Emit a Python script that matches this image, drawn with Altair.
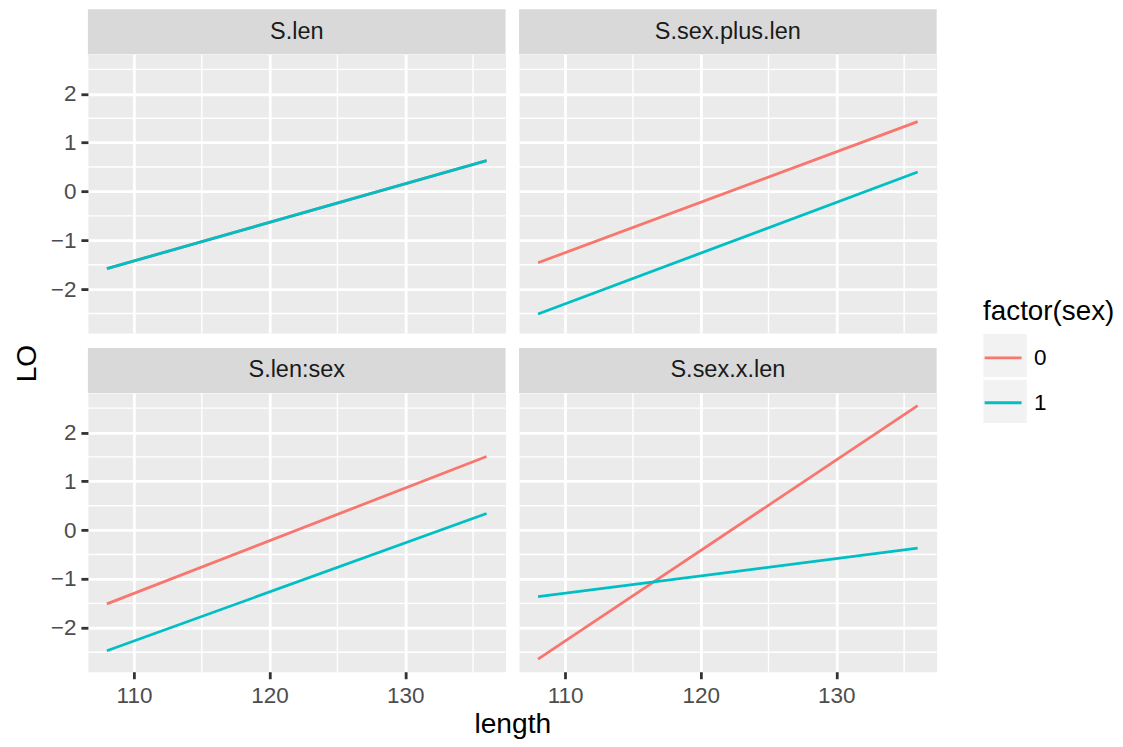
import altair as alt
import pandas as pd

FONT = "Liberation Sans"

# ---- data ----
models = ["S.len", "S.sex.plus.len", "S.len:sex", "S.sex.x.len"]
length_ends = [108, 136]
lo_sex0_start = [-1.58, -1.46, -1.51, -2.64]
lo_sex0_end = [0.63, 1.43, 1.51, 2.55]
lo_sex1_start = [-1.58, -2.51, -2.47, -1.36]
lo_sex1_end = [0.63, 0.40, 0.34, -0.37]
sex_levels = ["0", "1"]
sex_colors = ["#F8766D", "#00BFC4"]

x_major = [110, 120, 130]
x_minor = [115, 125, 135]
y_major = [-2, -1, 0, 1, 2]
y_minor = [-2.5, -1.5, -0.5, 0.5, 1.5, 2.5]

rows = []
for i, m in enumerate(models):
    for sex, ys in (("0", (lo_sex0_start[i], lo_sex0_end[i])), ("1", (lo_sex1_start[i], lo_sex1_end[i]))):
        for x, y in zip(length_ends, ys):
            rows.append({"model": m, "sex": sex, "length": x, "LO": y})
df = pd.DataFrame(rows)

# ggplot-like 5% expansion of the data range
xmin, xmax = df["length"].min(), df["length"].max()
ymin, ymax = df["LO"].min(), df["LO"].max()
xpad = (xmax - xmin) * 0.05
ypad = (ymax - ymin) * 0.05
xs = alt.Scale(domain=[float(xmin - xpad), float(xmax + xpad)], nice=False, zero=False)
ys_ = alt.Scale(domain=[float(ymin - ypad), float(ymax + ypad)], nice=False, zero=False)

W, H = 418, 279
STRIP = 45
HSP, VSP = 13.5, 60
TXT = 22.5
STRIP_TXT = 23.5
TTL = 28.2

minor_x_df = pd.DataFrame({"mx": x_minor})
minor_y_df = pd.DataFrame({"my": y_minor})


def make_axis(values, show, title=None, **kw):
    return alt.Axis(
        values=values, grid=True, gridColor="white", gridWidth=2.8, domain=False,
        labels=show, ticks=show, tickSize=7, tickWidth=2.8, tickColor="#333333",
        labelFont=FONT, labelFontSize=TXT, labelColor="#4D4D4D",
        title=title, titleFont=FONT, titleFontSize=TTL, titleColor="black",
        titleFontWeight="normal", **kw)


def panel(idx, show_x, show_y, x_title=False, y_title=False, key_boxes=False):
    name = models[idx]
    d = df[df["model"] == name]
    xkw = {}
    if x_title:
        xkw = dict(titleX=W + HSP / 2, titleY=61, titleBaseline="alphabetic", titleAlign="center")
    ykw = {}
    if y_title:
        ykw = dict(titleX=-52.5, titleY=(2 * H + VSP) / 2, titleBaseline="alphabetic",
                   titleAlign="center", titleAngle=270)
    xaxis = make_axis(x_major, show_x, "length" if x_title else None, labelPadding=6, **xkw)
    yaxis = make_axis(y_major, show_y, "LO" if y_title else None, labelPadding=5, **ykw)

    minor_v = alt.Chart(minor_x_df).mark_rule(color="white", strokeWidth=1.4).encode(
        x=alt.X("mx:Q", scale=xs, axis=xaxis))
    minor_h = alt.Chart(minor_y_df).mark_rule(color="white", strokeWidth=1.4).encode(
        y=alt.Y("my:Q", scale=ys_, axis=yaxis))
    strip_df = pd.DataFrame({"model": [name]})
    strip = alt.Chart(strip_df).mark_rect(color="#D9D9D9").encode(
        x=alt.value(0), x2=alt.value(W), y=alt.value(-STRIP), y2=alt.value(0))
    strip_txt = alt.Chart(strip_df).mark_text(
        font=FONT, fontSize=STRIP_TXT, color="#1A1A1A", align="center", baseline="middle").encode(
        x=alt.value(W / 2), y=alt.value(-STRIP / 2), text="model:N")
    lines = alt.Chart(d).mark_line(strokeWidth=2.8).encode(
        x=alt.X("length:Q", scale=xs, axis=xaxis),
        y=alt.Y("LO:Q", scale=ys_, axis=yaxis),
        color=alt.Color("sex:N", scale=alt.Scale(domain=sex_levels, range=sex_colors),
                        legend=alt.Legend(title="factor(sex)", orient="none",
                                          legendX=896, legendY=244, direction="vertical")),
    )
    layers = [minor_v, minor_h, strip, strip_txt]
    if key_boxes:
        kb_df = pd.DataFrame({"sex": sex_levels})
        kb = alt.Chart(kb_df).mark_rect(color="#F2F2F2").encode(
            x=alt.value(465), x2=alt.value(508),
            y=alt.value(280), y2=alt.value(323))
        kb2 = alt.Chart(kb_df).mark_rect(color="#F2F2F2").encode(
            x=alt.value(465), x2=alt.value(508),
            y=alt.value(326), y2=alt.value(369))
        layers += [kb, kb2]
    layers.append(lines)
    return alt.layer(*layers).properties(width=W, height=H)


p1 = panel(0, show_x=False, show_y=True, y_title=True)
p2 = panel(1, show_x=False, show_y=False, key_boxes=True)
p3 = panel(2, show_x=True, show_y=True, x_title=True)
p4 = panel(3, show_x=True, show_y=False)

chart = alt.concat(
    p1, p2, p3, p4, columns=2, spacing={"row": VSP, "column": HSP}, bounds="flush"
).resolve_scale(
    color="shared"
).properties(
    padding={"left": 4, "top": 0, "right": 0, "bottom": 0}, background="white"
).configure_view(
    fill="#EBEBEB", stroke="transparent"
).configure_legend(
    padding=0, titleFont=FONT, titleFontSize=27.8, titleColor="black", titleFontWeight="normal",
    titlePadding=12, labelFont=FONT, labelFontSize=TXT, labelColor="black", labelOffset=11,
    symbolType="stroke", symbolSize=1369, symbolStrokeWidth=2.8, rowPadding=13,
)

chart.save("out.html", embed_options={"renderer": "svg", "actions": False})
